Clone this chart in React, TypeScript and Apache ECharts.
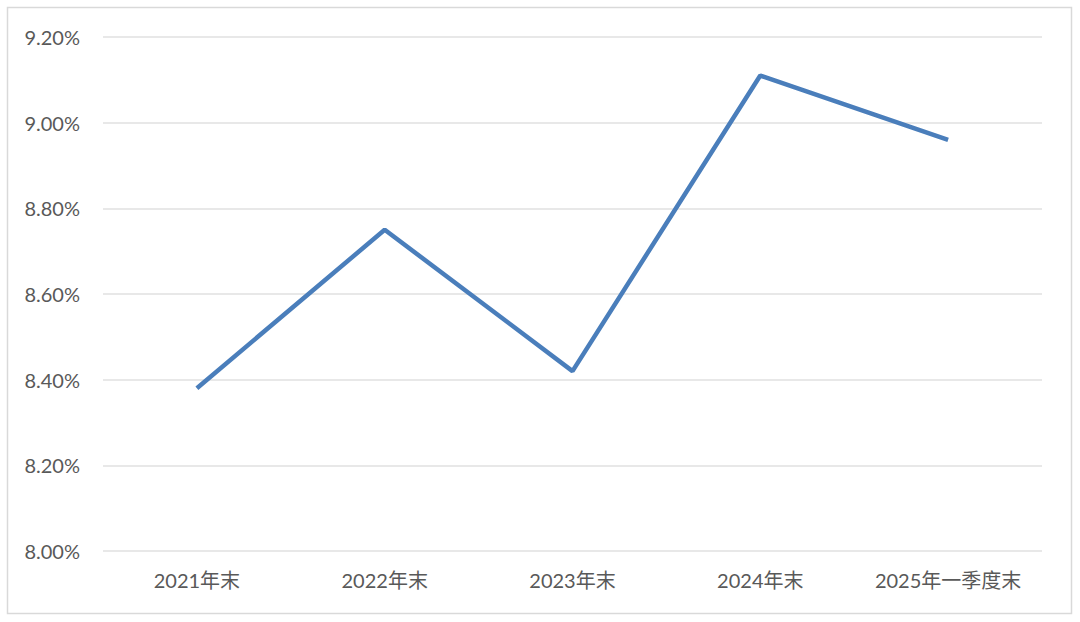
import React, { useEffect, useRef } from "react";
import * as echarts from "echarts";

const categories = ["2021年末", "2022年末", "2023年末", "2024年末", "2025年一季度末"];
const values = [8.38, 8.75, 8.42, 9.11, 8.96];
const yMin = 8.0;
const yMax = 9.2;
const yInterval = 0.2;

export default function App() {
  const ref = useRef<HTMLDivElement>(null);
  useEffect(() => {
    if (!ref.current) return;
    const chart = echarts.init(ref.current, null, { renderer: "svg" });
    const font = "Lato, 'Noto Sans CJK SC', sans-serif";
    chart.setOption({
      animation: false,
      backgroundColor: "#ffffff",
      textStyle: { fontFamily: font },
      graphic: [
        {
          type: "rect",
          shape: { x: 7.5, y: 7.5, width: 1064, height: 606 },
          style: { fill: "none", stroke: "#d9d9d9", lineWidth: 1.5 },
          silent: true,
        },
      ],
      grid: { left: 103, right: 38, top: 37, bottom: 71, containLabel: false },
      xAxis: {
        type: "category",
        data: categories,
        boundaryGap: true,
        axisLine: { show: false },
        axisTick: { show: false },
        axisLabel: {
          color: "#595959",
          fontSize: 20,
          margin: 19,
          interval: 0,
          hideOverlap: false,
          fontFamily: font,
        },
      },
      yAxis: {
        type: "value",
        min: yMin,
        max: yMax,
        interval: yInterval,
        axisLine: { show: false },
        axisTick: { show: false },
        axisLabel: {
          color: "#595959",
          fontSize: 20,
          margin: 23,
          fontFamily: font,
          formatter: (v: number) => v.toFixed(2) + "%",
        },
        splitLine: { lineStyle: { color: "#e0e0e0", width: 1.5 } },
      },
      series: [
        {
          type: "line",
          data: values,
          showSymbol: false,
          symbol: "none",
          lineStyle: { color: "#4a7ebb", width: 4.5 },
        },
      ],
    });
    return () => chart.dispose();
  }, []);
  return (
    <div
      ref={ref}
      style={{ position: "fixed", left: 0, top: 0, width: 1080, height: 622 }}
    />
  );
}
